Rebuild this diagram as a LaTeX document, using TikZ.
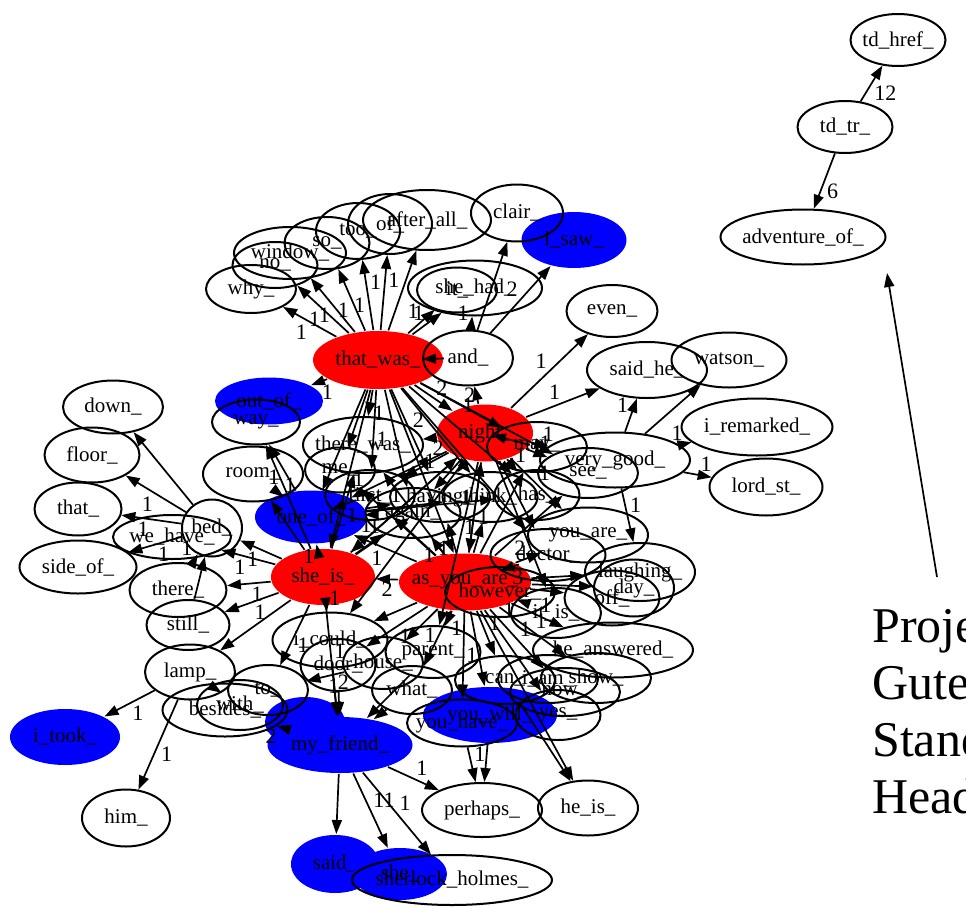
\documentclass[tikz,border=0pt]{standalone}
\usepackage{fontspec}
\setmainfont{Liberation Serif}
\usetikzlibrary{shapes.geometric,arrows.meta}

\tikzset{
  word/.style={ellipse, draw=black, line width=2pt, inner sep=0pt,
    font=\fontsize{21}{21}\selectfont},
  redword/.style={word, draw=none, fill=red},
  blueword/.style={word, draw=none, fill=blue},
  link/.style={->, line width=1.7pt},
  lbl/.style={font=\fontsize{22}{22}\selectfont, inner sep=2pt},
  >={Triangle[length=14pt,width=10pt]},
}

\begin{document}
\begin{tikzpicture}[x=1pt,y=-1pt]
\useasboundingbox (0,0) rectangle (966,907);

% Filled words first, the outlines go over them.
\foreach \n/\x/\y/\w/\h/\lab in {isaw/574/240/105/56/i\_saw\_, outof/269/401/108/47/out\_of\_,
    oneof/311/517/112/53/one\_of\_, blob/305/722/80/50/, myfriend/340/745/145/56/my\_friend\_,
    youwill/490/715/134/56/you\_will\_, itook/65/737/110/56/i\_took\_,
    said/335/864/88/58/said\_, shee/400/874/94/52/she\_}
  \node[blueword, minimum width=\w, minimum height=\h] (\n) at (\x,\y) {\makebox[0pt]{\lab}};
\foreach \n/\x/\y/\w/\h/\lab in {thatwas/378/360/130/58/that\_was\_, night/485/433/96/57/night\_,
    sheis/323/577/104/56/she\_is\_, asyou/465/582/132/57/as\_you\_are\_}
  \node[redword, minimum width=\w, minimum height=\h] (\n) at (\x,\y) {\makebox[0pt]{\lab}};

% Plain words.
\foreach \n/\x/\y/\w/\h/\lab in {tdhref/898/40/95/52/td\_href\_, tdtr/845/127/95/52/td\_tr\_,
    advof/803/237/165/55/adventure\_of\_,
    why/251/289/90/48/why\_, no/275/265/85/46/no\_, window/290/253/112/52/window\_,
    so/327/243/85/52/so\_, too/358/231/84/56/too\_, of/390/224/84/60/of\_,
    afterall/427/220/128/60/after\_all\_, clair/517/213/92/57/clair\_,
    it/457/290/80/45/it\_, shehad/475/288/134/55/she\_had\_, andw/468/358/90/55/and\_,
    even/612/311/91/52/even\_, saidhe/647/370/120/56/said\_he\_, watson/729/360/115/55/watson\_,
    iremarked/757/427/151/57/i\_remarked\_, lordst/766/487/113/57/lord\_st\_,
    verygood/615/460/150/55/very\_good\_,
    way/256/422/88/45/way\_, room/253/474/100/55/room\_, down/113/407/100/53/down\_,
    floor/92/455/95/55/floor\_, that/78/509/87/53/that\_, wehave/172/537/118/44/we\_have\_,
    bed/212/528/60/57/bed\_, sideof/78/567/117/53/side\_of\_, there/178/590/97/54/there\_,
    still/188/625/83/50/still\_, lamp/190/672/90/55/lamp\_, besides/225/710/125/53/besides\_,
    with/240/705/86/50/with\_, to/268/690/80/50/to\_, him/126/818/88/57/him\_,
    icould/330/640/115/55/i\_could\_, door/338/665/75/52/door\_, house/383/663/80/52/house\_,
    parent/433/652/95/52/parent\_, what/412/690/80/48/what\_, youhave/462/723/110/47/you\_have\_,
    yes/558/715/85/50/yes\_, perhaps/482/810/120/54/perhaps\_, heis/588/808/100/55/he\_is\_,
    sherlock/452/880/200/50/sherlock\_holmes\_, heanswered/613/650/160/55/he\_answered\_,
    can/505/680/100/48/can\_, iam/548/679/100/48/i\_am\_, show/596/678/110/50/show\_,
    now/565/692/110/48/now\_, youare/588/535/120/55/you\_are\_, doctor/548/555/115/52/doctor\_,
    laughing/640/572/110/58/laughing\_, day/634/588/80/57/day\_, off/612/598/95/55/off\_,
    itis/556/613/90/50/it\_is\_, see/588/473/100/50/see\_, may/537/447/100/50/may\_,
    therewas/363/445/120/56/there\_was\_, having/440/497/100/50/having\_,
    think/490/497/95/50/think\_, has/537/495/85/50/has\_, first/370/495/90/50/first\_,
    again/413/513/95/50/again\_, me/340/470/70/45/me\_, however/500/592/110/50/however\_}
  \node[word, minimum width=\w, minimum height=\h] (\n) at (\x,\y) {\makebox[0pt]{\lab}};

% Word links with their counts.
\foreach \src/\dst/\num in {thatwas/why/1, thatwas/no/1, thatwas/window/1, thatwas/so/1,
    thatwas/too/1, thatwas/of/1, thatwas/afterall/1, thatwas/it/1, thatwas/shehad/1,
    andw/clair/, andw/isaw/2, andw/shehad/1, thatwas/outof/1, thatwas/andw/, thatwas/night/2,
    thatwas/therewas/1, thatwas/me/, thatwas/first/1, thatwas/having/2, thatwas/again/,
    thatwas/asyou/1, thatwas/may/2, thatwas/think/, thatwas/sheis/1, thatwas/oneof/,
    thatwas/see/, thatwas/has/, thatwas/doctor/,
    night/even/1, night/saidhe/1, night/andw/1, night/may/, night/see/1, night/verygood/1,
    night/youare/1, night/doctor/, night/asyou/1, night/therewas/2, night/having/, night/has/1,
    night/itis/, night/first/, night/oneof/, night/again/, night/icould/, night/parent/,
    night/sheis/,
    verygood/saidhe/1, verygood/watson/, verygood/iremarked/1, verygood/lordst/1,
    verygood/laughing/1,
    sheis/oneof/1, sheis/room/, sheis/way/, sheis/bed/1, sheis/there/1, sheis/still/1,
    sheis/icould/1, sheis/to/1, sheis/myfriend/1, sheis/therewas/, sheis/night/1,
    sheis/wehave/1, sheis/lamp/, sheis/having/1, sheis/again/,
    oneof/way/1, oneof/room/1, oneof/having/, oneof/again/1, oneof/first/1, oneof/think/,
    oneof/has/,
    bed/down/, bed/floor/1, bed/that/1, bed/sideof/1, there/bed/1, still/bed/, with/lamp/,
    lamp/itook/1, lamp/him/1,
    asyou/sheis/2, asyou/oneof/1, asyou/icould/, asyou/door/1, asyou/house/1, asyou/parent/1,
    asyou/what/, asyou/youhave/1, asyou/youwill/, asyou/can/1, asyou/yes/, asyou/heanswered/1,
    asyou/itis/1, asyou/off/, asyou/day/, asyou/laughing/, asyou/doctor/3, asyou/youare/2,
    asyou/heis/, asyou/now/1, asyou/show/1, asyou/having/1, asyou/think/1, asyou/see/,
    asyou/therewas/, asyou/me/, asyou/first/, asyou/again/1, asyou/may/, asyou/night/1,
    icould/myfriend/2, door/myfriend/, house/to/1, parent/myfriend/, what/myfriend/,
    myfriend/besides/2, myfriend/said/, myfriend/shee/11, myfriend/sherlock/1,
    myfriend/perhaps/1, youwill/perhaps/, can/heis/, youhave/perhaps/1}
  \draw[link] (\src) -- node[lbl, auto]{\num} (\dst);

% Header part.
\draw[link] (tdtr) -- node[lbl, auto, swap]{12} (tdhref);
\draw[link] (tdtr) -- node[lbl, auto]{6} (advof);
\node[anchor=north west, inner sep=0pt, align=left, font=\fontsize{50}{57}\selectfont]
  (header) at (872,609) {Project\\Gutenberg\\Standard\\Header};
\coordinate (hdrtail) at (937,577);
\coordinate (hdrtip) at (887,273);
\draw[link] (hdrtail) -- (hdrtip);
\end{tikzpicture}
\end{document}
